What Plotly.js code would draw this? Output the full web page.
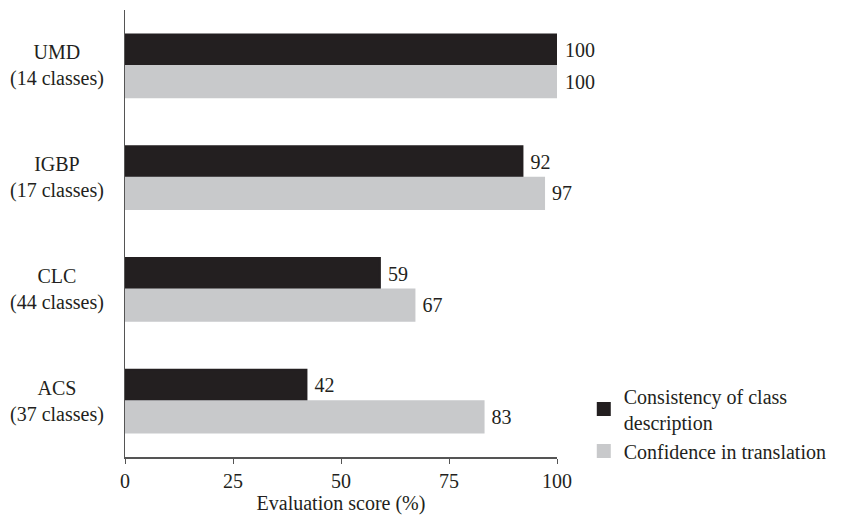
<!DOCTYPE html>
<html><head><meta charset="utf-8">
<script src="https://cdn.plot.ly/plotly-3.0.1.min.js"></script>
<style>html,body{margin:0;padding:0;background:#fff}</style>
</head><body><div id="chart" style="width:853px;height:516px"></div>
<script>
const categories = ["UMD", "IGBP", "CLC", "ACS"];
const classCounts = ["(14 classes)", "(17 classes)", "(44 classes)", "(37 classes)"];
const consistency = [100, 92, 59, 42];
const confidence = [100, 97, 67, 83];
const seriesNames = ["Consistency of class<br>description", "Confidence in translation"];
const xTicks = [0, 25, 50, 75, 100];

const FONT = "Liberation Serif, Times New Roman, serif";
const FS = 20;
const traces = [
  {type:"bar", orientation:"h", y:categories, x:consistency, name:seriesNames[0],
   marker:{color:"#231f20", line:{color:"#231f20", width:2}}, text:consistency.map(v=>"\u00a0"+v), textposition:"outside",
   cliponaxis:false, textfont:{family:FONT,size:FS,color:"#231f20"}},
  {type:"bar", orientation:"h", y:categories, x:confidence, name:seriesNames[1],
   marker:{color:"#c8c9cb", line:{color:"#c8c9cb", width:2}}, text:confidence.map(v=>"\u00a0"+v), textposition:"outside",
   cliponaxis:false, textfont:{family:FONT,size:FS,color:"#231f20"}}
];
const annotations = categories.map((c,i)=>({
  xref:"paper", yref:"y", x:-0.157, y:c, xanchor:"center", yanchor:"middle",
  text:c+"<br>"+classCounts[i], showarrow:false, align:"center",
  font:{family:FONT,size:FS,color:"#231f20"}
}));
const layout = {
  width:853, height:516, margin:{l:125,r:296,t:10,b:59},
  paper_bgcolor:"#fff", plot_bgcolor:"#fff",
  barmode:"group", bargap:0.44, bargroupgap:0,
  font:{family:FONT,size:FS,color:"#231f20"},
  xaxis:{range:[0,100], tickvals:xTicks, ticktext:xTicks.map(String), showgrid:false, zeroline:false,
    showline:true, linecolor:"#555", linewidth:1.5, ticks:"outside", ticklen:5, tickcolor:"#555",
    tickfont:{family:FONT,size:FS}, title:{text:"Evaluation score (%)", font:{family:FONT,size:FS}, standoff:4}},
  yaxis:{autorange:"reversed", showticklabels:false, showgrid:false, zeroline:false,
    showline:true, linecolor:"#555", linewidth:1.5, ticks:""},
  showlegend:true,
  legend:{x:1.062, xanchor:"left", y:0.18, yanchor:"top", font:{family:FONT,size:FS},
    tracegroupgap:0, itemwidth:30, bgcolor:"rgba(0,0,0,0)"},
  annotations:annotations
};
Plotly.newPlot("chart", traces, layout, {displayModeBar:false, staticPlot:true});
</script></body></html>
